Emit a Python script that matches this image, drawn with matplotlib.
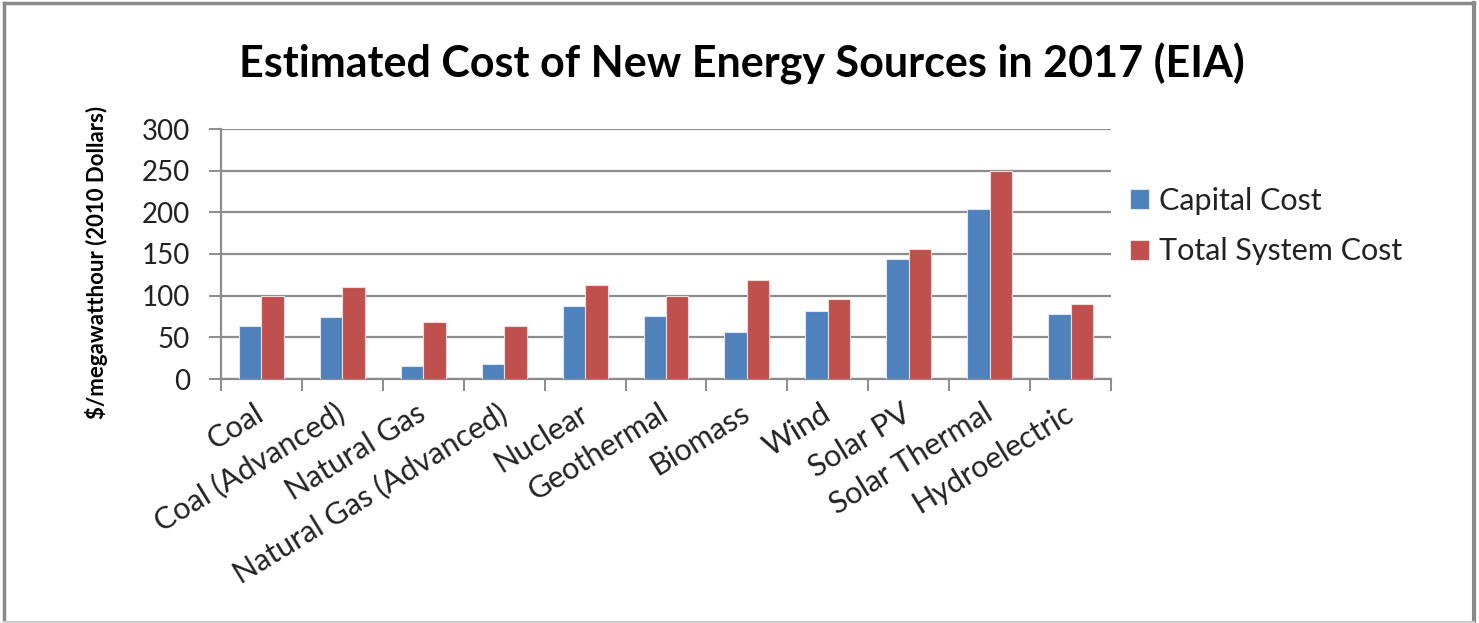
import numpy as np
import matplotlib.pyplot as plt
from matplotlib.lines import Line2D

plt.rcParams['font.family'] = ['Lato', 'DejaVu Sans']

sources = ['Coal', 'Coal (Advanced)', 'Natural Gas', 'Natural Gas (Advanced)',
           'Nuclear', 'Geothermal', 'Biomass', 'Wind', 'Solar PV',
           'Solar Thermal', 'Hydroelectric']
capital_cost = [64, 74, 16, 18, 88, 76, 57, 82, 144, 204, 78]
total_cost = [100, 111, 68, 64, 113, 100, 119, 96, 156, 250, 90]
y_ticks = [0, 50, 100, 150, 200, 250, 300]

blue = '#4F81BD'
red = '#C0504D'
grid_gray = '#8C8C8C'

W, H = 1479, 623
fig = plt.figure(figsize=(W / 100, H / 100), dpi=100)
ax = fig.add_axes([221 / W, 1 - 379 / H, (1111 - 221) / W, (379 - 129) / H])

x = np.arange(len(sources))
bw = 0.278
ax.bar(x - bw / 2, capital_cost, bw, color=blue, edgecolor='#dfe6f0',
       linewidth=0.8, label='Capital Cost', zorder=3)
ax.bar(x + bw / 2, total_cost, bw, color=red, edgecolor='#f0dcdc',
       linewidth=0.8, label='Total System Cost', zorder=3)

ax.set_xlim(-0.5, len(sources) - 0.5)
ax.set_ylim(0, 300)
ax.set_yticks(y_ticks)
ax.yaxis.grid(True, color=grid_gray, linewidth=1.6, zorder=0)
ax.set_axisbelow(True)

for side in ('top', 'right'):
    ax.spines[side].set_visible(False)
for side in ('left', 'bottom'):
    ax.spines[side].set_color(grid_gray)
    ax.spines[side].set_linewidth(1.6)

ax.tick_params(axis='y', length=8.5, width=1.4, color=grid_gray, pad=14,
               labelsize=20, labelcolor='#222222')
ax.set_xticks(x)
ax.set_xticklabels(sources, rotation=31.5, ha='right', va='center',
                   rotation_mode='anchor', fontsize=22, color='#222222')
ax.tick_params(axis='x', which='major', length=0, pad=23)
ax.set_xticks(np.arange(len(sources) + 1) - 0.5, minor=True)
ax.tick_params(axis='x', which='minor', length=8.5, width=1.4, color=grid_gray)

ax.legend(loc='center left', bbox_to_anchor=(1111 / W - 0.006, 1 - 226 / H),
          bbox_transform=fig.transFigure, frameon=False, fontsize=22,
          handlelength=0.65, handleheight=0.65, handletextpad=0.3,
          labelspacing=0.75, labelcolor='#222222')

fig.text(742 / W, 1 - 64 / H, 'Estimated Cost of New Energy Sources in 2017 (EIA)',
         ha='center', va='center', fontsize=31, fontweight='bold')
fig.text(97 / W, 1 - 262 / H, '$/megawatthour (2010 Dollars)',
         ha='center', va='center', rotation=90, fontsize=16, fontweight='bold')

# outer chart frame
fig.add_artist(Line2D([4 / W, 4 / W], [0, 1 - 3 / H], color='#8a8a8a', linewidth=2.5))
fig.add_artist(Line2D([4 / W, 1474 / W], [1 - 3 / H, 1 - 3 / H], color='#8a8a8a', linewidth=2.5))
fig.add_artist(Line2D([1474 / W, 1474 / W], [0, 1 - 3 / H], color='#8a8a8a', linewidth=3))
fig.add_artist(Line2D([4 / W, 1474 / W], [1.5 / H, 1.5 / H], color='#cccccc', linewidth=1.5))

fig.savefig('out.png', dpi=100, facecolor='white')
